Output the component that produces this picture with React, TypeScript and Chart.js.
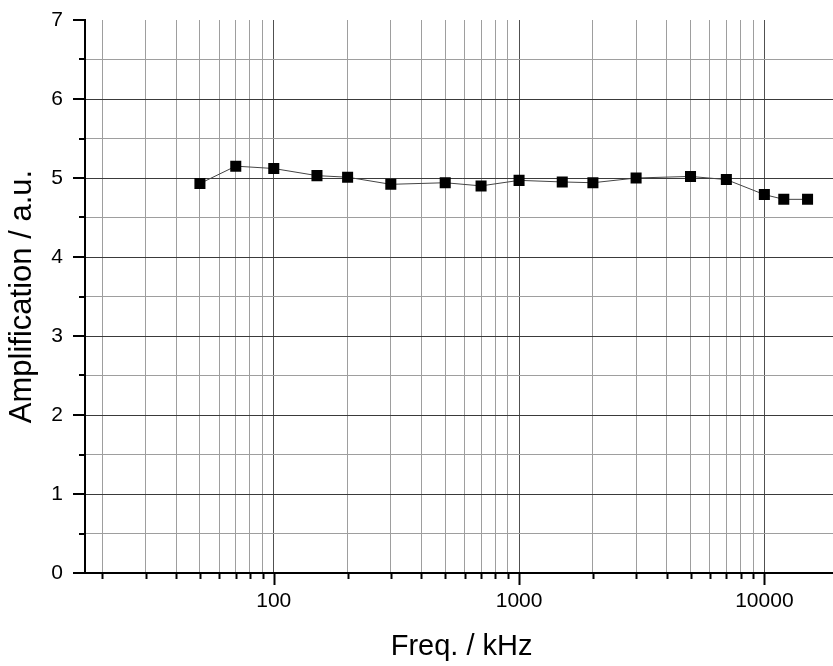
import React, { useEffect, useRef } from "react";
import { Chart, registerables } from "chart.js";

Chart.register(...registerables);

// Data
const freqKHz = [50, 70, 100, 150, 200, 300, 500, 700, 1000, 1500, 2000, 3000, 5000, 7000, 10000, 12000, 15000];
const amplification = [4.93, 5.15, 5.12, 5.03, 5.01, 4.92, 4.94, 4.90, 4.97, 4.95, 4.94, 5.00, 5.02, 4.98, 4.79, 4.73, 4.73];

// Axis definitions
const xTickValues = [
  20, 30, 40, 50, 60, 70, 80, 90,
  100, 200, 300, 400, 500, 600, 700, 800, 900,
  1000, 2000, 3000, 4000, 5000, 6000, 7000, 8000, 9000,
  10000, 20000,
];
const xLabelValues = [100, 1000, 10000];
const xMin = 17;
const xMax = 20000;
const yMin = 0;
const yMax = 7;
const yStep = 0.5;

const xTitle = "Freq. / kHz";
const yTitle = "Amplification / a.u.";

const FONT = "'Liberation Sans', Arial, Helvetica, sans-serif";

const isDecade = (v: number) => {
  const l = Math.log10(v);
  return Math.abs(l - Math.round(l)) < 1e-9;
};

const tickMarksPlugin = {
  id: "tickMarks",
  afterDraw(chart: any) {
    const { ctx, chartArea } = chart;
    const x = chart.scales.x;
    const y = chart.scales.y;
    ctx.save();
    ctx.strokeStyle = "#000";
    ctx.lineWidth = 2;
    x.ticks.forEach((t: any) => {
      const px = x.getPixelForValue(t.value);
      if (px < chartArea.left - 1 || px > chartArea.right - 1) return;
      const len = isDecade(t.value) ? 12 : 6;
      ctx.beginPath();
      ctx.moveTo(Math.round(px) + 0.5, chartArea.bottom);
      ctx.lineTo(Math.round(px) + 0.5, chartArea.bottom + len);
      ctx.stroke();
    });
    y.ticks.forEach((t: any) => {
      const py = y.getPixelForValue(t.value);
      const len = Number.isInteger(t.value) ? 12 : 6;
      ctx.beginPath();
      ctx.moveTo(chartArea.left, Math.round(py));
      ctx.lineTo(chartArea.left - len, Math.round(py));
      ctx.stroke();
    });
    ctx.restore();
  },
};

export default function App() {
  const canvasRef = useRef<HTMLCanvasElement | null>(null);

  useEffect(() => {
    if (!canvasRef.current) return;
    const chart = new Chart(canvasRef.current, {
      type: "line",
      data: {
        datasets: [
          {
            data: freqKHz.map((f, i) => ({ x: f, y: amplification[i] })),
            borderColor: "#444",
            borderWidth: 1,
            backgroundColor: "#000",
            pointBackgroundColor: "#000",
            pointBorderColor: "#000",
            pointBorderWidth: 0,
            pointStyle: "rect",
            pointRadius: 7.8,
            tension: 0,
          },
        ],
      },
      options: {
        responsive: false,
        animation: false,
        layout: { padding: { top: 20, left: 0, right: 0, bottom: 0 } },
        plugins: {
          legend: { display: false },
          tooltip: { enabled: false },
        },
        scales: {
          x: {
            type: "logarithmic",
            min: xMin,
            max: xMax,
            afterBuildTicks: (scale: any) => {
              scale.ticks = xTickValues.map((v) => ({ value: v, major: isDecade(v) }));
            },
            afterFit: (scale: any) => {
              scale.height = 93;
              scale.paddingLeft = 0;
              scale.paddingRight = 0;
            },
            grid: {
              drawTicks: false,
              lineWidth: 1,
              color: (c: any) => {
                const v = c.tick ? c.tick.value : 0;
                return isDecade(v) ? "#505050" : "#9e9e9e";
              },
            },
            border: { display: true, color: "#000", width: 2 },
            ticks: {
              autoSkip: false,
              maxRotation: 0,
              minRotation: 0,
              padding: 16,
              color: "#000",
              font: { family: FONT, size: 21 },
              callback: (value: any) => (xLabelValues.includes(Number(value)) ? String(value) : ""),
            },
            title: {
              display: true,
              text: xTitle,
              color: "#000",
              font: { family: FONT, size: 29 },
              padding: { top: 0, bottom: 2 },
            },
          },
          y: {
            type: "linear",
            min: yMin,
            max: yMax,
            afterFit: (scale: any) => {
              scale.width = 85;
              scale.paddingTop = 0;
              scale.paddingBottom = 0;
            },
            grid: {
              drawTicks: false,
              lineWidth: 1,
              color: (c: any) => {
                const v = c.tick ? c.tick.value : 0;
                if (v >= yMax) return "rgba(0,0,0,0)";
                return Number.isInteger(v) ? "#3a3a3a" : "#9e9e9e";
              },
            },
            border: { display: true, color: "#000", width: 2 },
            ticks: {
              stepSize: yStep,
              autoSkip: false,
              padding: 22,
              color: "#000",
              font: { family: FONT, size: 21 },
              callback: (value: any) => (Number.isInteger(Number(value)) ? String(value) : ""),
            },
            title: {
              display: true,
              text: yTitle,
              color: "#000",
              font: { family: FONT, size: 31 },
              padding: { top: 4, bottom: 0 },
            },
          },
        },
      },
      plugins: [tickMarksPlugin],
    } as any);
    return () => chart.destroy();
  }, []);

  return (
    <div
      style={{
        position: "fixed",
        left: 0,
        top: 0,
        width: 833,
        height: 666,
        overflow: "hidden",
        background: "#fff",
      }}
    >
      <canvas ref={canvasRef} width={846} height={666} style={{ display: "block" }} />
    </div>
  );
}
